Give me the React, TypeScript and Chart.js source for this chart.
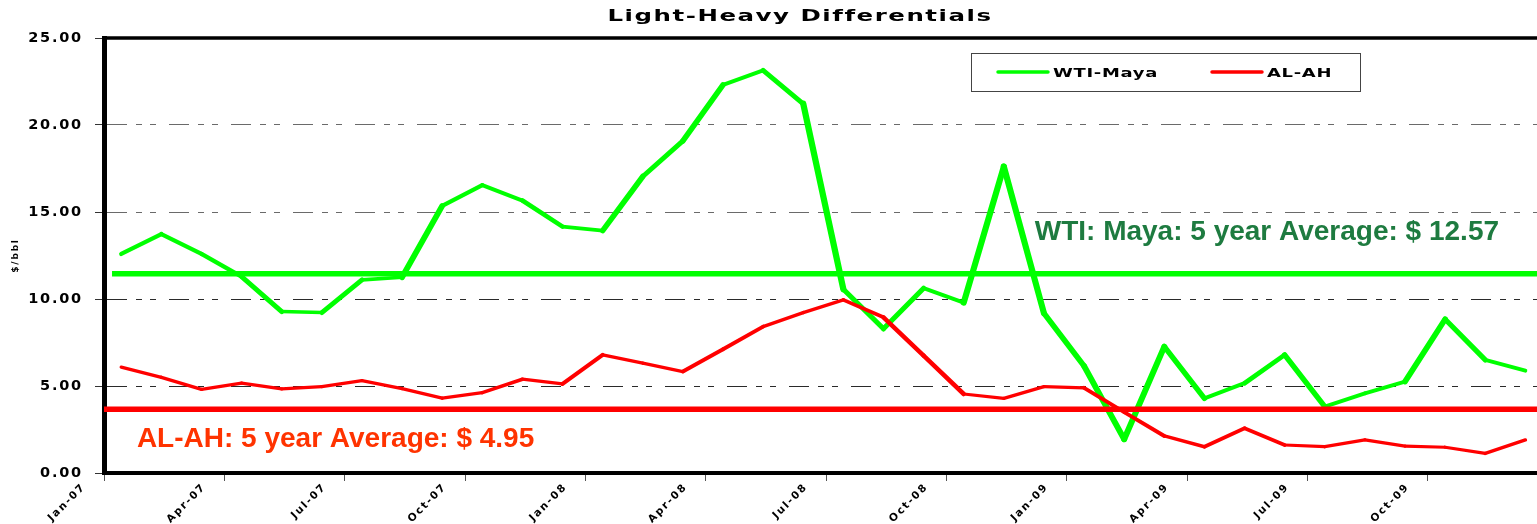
import React, { useEffect, useRef } from 'react';
import { Chart, registerables } from 'chart.js';

Chart.register(...registerables);

// ---------- data ----------
const MONTHS = [
  'Jan-07', 'Feb-07', 'Mar-07', 'Apr-07', 'May-07', 'Jun-07', 'Jul-07', 'Aug-07', 'Sep-07', 'Oct-07', 'Nov-07', 'Dec-07',
  'Jan-08', 'Feb-08', 'Mar-08', 'Apr-08', 'May-08', 'Jun-08', 'Jul-08', 'Aug-08', 'Sep-08', 'Oct-08', 'Nov-08', 'Dec-08',
  'Jan-09', 'Feb-09', 'Mar-09', 'Apr-09', 'May-09', 'Jun-09', 'Jul-09', 'Aug-09', 'Sep-09', 'Oct-09', 'Nov-09', 'Dec-09',
];
const TICK_LABELS = ['Jan-07', 'Apr-07', 'Jul-07', 'Oct-07', 'Jan-08', 'Apr-08', 'Jul-08', 'Oct-08', 'Jan-09', 'Apr-09', 'Jul-09', 'Oct-09'];
const Y_TICKS = [0, 5, 10, 15, 20, 25];

const WTI_MAYA = [
  12.59, 13.73, 12.59, 11.29, 9.28, 9.22, 11.1, 11.25, 15.35, 16.54, 15.66, 14.16,
  13.93, 17.04, 19.09, 22.31, 23.14, 21.22, 10.56, 8.29, 10.62, 9.79, 17.61, 9.18,
  6.15, 1.94, 7.26, 4.29, 5.16, 6.79, 3.81, 4.58, 5.25, 8.84, 6.5, 5.88,
];
const AL_AH = [
  6.08, 5.5, 4.81, 5.16, 4.83, 4.96, 5.31, 4.85, 4.3, 4.62, 5.39, 5.12,
  6.79, 6.31, 5.83, 7.11, 8.41, 9.22, 9.95, 8.95, 6.74, 4.54, 4.29, 4.96,
  4.89, 3.5, 2.13, 1.51, 2.57, 1.61, 1.51, 1.9, 1.55, 1.48, 1.13, 1.9,
];
const WTI_AVG_LEVEL = 11.45;
const AL_AH_AVG_LEVEL = 3.66;

const SERIES_NAMES = ['WTI-Maya', 'AL-AH'];
const TITLE = 'Light-Heavy Differentials';
const Y_TITLE = '$/bbl';
const WTI_NOTE = 'WTI: Maya: 5 year Average: $ 12.57';
const AL_AH_NOTE = 'AL-AH: 5 year Average: $ 4.95';

// ---------- styling ----------
const GREEN = '#00FF00';
const RED = '#FF0000';
const POINT_OFFSET = 0.43; // months after tick
const X_MAX = 35.72;
const STRETCH = 1.75;

const segWidth = (base: number) => (ctx: any) => {
  const dx = ctx.p1.x - ctx.p0.x;
  const dy = ctx.p1.y - ctx.p0.y;
  const L = Math.hypot(dx, dy) || 1;
  const c = dx / L;
  const s = dy / L;
  return base * Math.sqrt(c * c + STRETCH * STRETCH * s * s);
};

const spacingPlugin = {
  id: 'spacingPlugin',
  beforeDraw(chart: any) {
    chart.ctx.letterSpacing = '1.8px';
  },
  beforeDatasetsDraw(chart: any) {
    chart.ctx.letterSpacing = '0px';
  },
};

const overlayPlugin = {
  id: 'overlayPlugin',
  afterDraw(chart: any) {
    const { ctx, chartArea, scales } = chart;
    ctx.save();
    ctx.letterSpacing = '0px';
    // top frame line
    ctx.strokeStyle = '#000';
    ctx.lineWidth = 3.5;
    ctx.beginPath();
    ctx.moveTo(chartArea.left - 2, chartArea.top);
    ctx.lineTo(chartArea.right, chartArea.top);
    ctx.stroke();

    // title (wide)
    ctx.save();
    ctx.font = 'bold 16px "DejaVu Sans"';
    ctx.letterSpacing = '1px';
    ctx.fillStyle = '#000';
    ctx.textBaseline = 'alphabetic';
    ctx.textAlign = 'left';
    const tw = ctx.measureText(TITLE).width;
    const tsx = 385 / tw;
    ctx.translate(800 - 385 / 2, 21);
    ctx.scale(tsx, 1);
    ctx.fillText(TITLE, 0, 0);
    ctx.restore();

    // legend box
    ctx.save();
    ctx.fillStyle = '#fff';
    ctx.fillRect(971.5, 53.5, 389, 38);
    ctx.strokeStyle = '#444';
    ctx.lineWidth = 1;
    ctx.strokeRect(971.5, 53.5, 389, 38);
    const items = [
      { color: GREEN, label: SERIES_NAMES[0], x0: 998, x1: 1048, tx: 1053 },
      { color: RED, label: SERIES_NAMES[1], x0: 1212, x1: 1262, tx: 1267 },
    ];
    ctx.font = 'bold 13px "DejaVu Sans"';
    ctx.letterSpacing = '0.5px';
    const lw = ctx.measureText(SERIES_NAMES[0]).width;
    const lsx = 105 / lw;
    for (const it of items) {
      ctx.strokeStyle = it.color;
      ctx.lineWidth = 3.5;
      ctx.lineCap = 'round';
      ctx.beginPath();
      ctx.moveTo(it.x0, 72);
      ctx.lineTo(it.x1, 72);
      ctx.stroke();
      ctx.save();
      ctx.fillStyle = '#000';
      ctx.textBaseline = 'alphabetic';
      ctx.translate(it.tx, 77);
      ctx.scale(lsx, 1);
      ctx.fillText(it.label, 0, 0);
      ctx.restore();
    }
    ctx.restore();

    // annotation notes
    const xs = scales.x;
    const ys = scales.y;
    ctx.save();
    ctx.letterSpacing = '0px';
    ctx.font = 'bold 28px "Liberation Sans", Arial, sans-serif';
    ctx.textBaseline = 'alphabetic';
    ctx.textAlign = 'left';
    ctx.fillStyle = '#1E7B40';
    ctx.fillText(WTI_NOTE, xs.getPixelForValue(23.2), ys.getPixelForValue(13.4));
    ctx.fillStyle = '#FF3300';
    ctx.fillText(AL_AH_NOTE, xs.getPixelForValue(0.82), ys.getPixelForValue(1.5));
    ctx.restore();

    ctx.restore();
  },
};

export default function App() {
  const canvasRef = useRef<HTMLCanvasElement | null>(null);

  useEffect(() => {
    if (!canvasRef.current) return;
    const toPts = (arr: number[]) => arr.map((v, i) => ({ x: i + POINT_OFFSET, y: v }));
    const chart = new Chart(canvasRef.current, {
      type: 'line',
      data: {
        datasets: [
          {
            label: SERIES_NAMES[1],
            data: toPts(AL_AH),
            borderColor: RED,
            borderWidth: 3.2,
            pointRadius: 0,
            tension: 0,
            borderJoinStyle: 'round',
            borderCapStyle: 'round',
            segment: { borderWidth: segWidth(3.2) },
          } as any,
          {
            label: 'AL-AH avg',
            data: [{ x: 0, y: AL_AH_AVG_LEVEL }, { x: 36, y: AL_AH_AVG_LEVEL }],
            borderColor: RED,
            borderWidth: 5.5,
            pointRadius: 0,
            tension: 0,
          },
          {
            label: SERIES_NAMES[0],
            data: toPts(WTI_MAYA),
            borderColor: GREEN,
            borderWidth: 3.6,
            pointRadius: 0,
            tension: 0,
            borderJoinStyle: 'round',
            borderCapStyle: 'round',
            segment: { borderWidth: segWidth(3.6) },
          } as any,
          {
            label: 'WTI-Maya avg',
            data: [{ x: 0.2, y: WTI_AVG_LEVEL }, { x: 36, y: WTI_AVG_LEVEL }],
            borderColor: GREEN,
            borderWidth: 5.5,
            pointRadius: 0,
            tension: 0,
          },
        ],
      },
      options: {
        animation: false,
        responsive: true,
        maintainAspectRatio: false,
        devicePixelRatio: 1,
        layout: { padding: { top: 38, right: 0, left: 0, bottom: 0 } },
        plugins: {
          legend: { display: false },
          title: { display: false },
          tooltip: { enabled: false },
        },
        scales: {
          x: {
            type: 'linear',
            min: 0,
            max: X_MAX,
            afterBuildTicks: (s: any) => {
              s.ticks = TICK_LABELS.map((l) => ({ value: MONTHS.indexOf(l) }));
            },
            afterFit: (s: any) => {
              s.height = 51;
            },
            ticks: {
              autoSkip: false,
              maxRotation: 45,
              minRotation: 45,
              labelOffset: -20,
              padding: 0,
              color: '#000',
              font: { family: 'DejaVu Sans', weight: 'bold', size: 10.5 },
              callback: (v: any) => MONTHS[v as number],
            },
            grid: {
              drawOnChartArea: false,
              drawTicks: true,
              tickLength: 8,
              tickColor: '#555',
              tickWidth: 1,
              lineWidth: 1,
            },
            border: { display: true, color: '#000', width: 4 },
          },
          y: {
            type: 'linear',
            min: 0,
            max: 25,
            afterBuildTicks: (s: any) => {
              s.ticks = Y_TICKS.map((v) => ({ value: v }));
            },
            afterFit: (s: any) => {
              s.width = 104;
            },
            ticks: {
              padding: 12,
              color: '#000',
              font: { family: 'DejaVu Sans', weight: 'bold', size: 14.5 },
              callback: (v: any) => Number(v).toFixed(2),
            },
            grid: {
              color: (c: any) => {
                const v = c.tick ? c.tick.value : 0;
                if (v === 0 || v === 25) return 'rgba(0,0,0,0)';
                return v >= 15 ? '#6a6a6a' : '#2a2a2a';
              },
              lineWidth: 1,
              tickLength: 9,
              tickColor: '#333',
              tickWidth: 1,
            },
            border: { display: true, color: '#000', width: 5, dash: [20, 9, 6, 8, 6, 13] },
            title: {
              display: true,
              text: Y_TITLE,
              color: '#000',
              font: { family: 'DejaVu Sans', weight: 'bold', size: 9 },
              padding: { top: 10, bottom: 0 },
            },
          },
        },
      } as any,
      plugins: [spacingPlugin, overlayPlugin],
    });
    return () => chart.destroy();
  }, []);

  return (
    <div style={{ position: 'absolute', left: 0, top: 0, width: 1537, height: 524, background: '#fff' }}>
      <canvas ref={canvasRef} />
    </div>
  );
}
